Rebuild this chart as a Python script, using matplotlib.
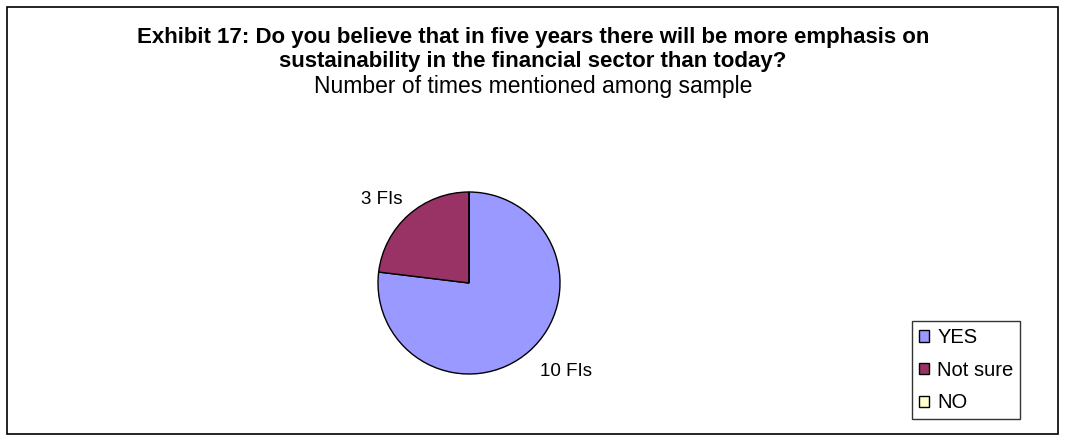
import matplotlib.pyplot as plt
import numpy as np

plt.rcParams['font.family'] = ['Liberation Sans', 'DejaVu Sans']

categories = ['YES', 'Not sure', 'NO']
counts = [10, 3, 0]
colors = ['#9999FF', '#993366', '#FFFFCC']

W, H = 1066, 442
fig = plt.figure(figsize=(W / 100, H / 100), dpi=100)

# outer frame
fig.patches.append(plt.Rectangle((7 / W, 8 / H), 1051 / W, 427 / H, transform=fig.transFigure,
                                 fill=False, edgecolor='black', linewidth=1.2))

fig.text(0.5, 1 - 38 / H, 'Exhibit 17: Do you believe that in five years there will be more emphasis on',
         ha='center', va='center', fontsize=16, fontweight='bold')
fig.text(0.5, 1 - 62 / H, 'sustainability in the financial sector than today?',
         ha='center', va='center', fontsize=16, fontweight='bold')
fig.text(0.5, 1 - 86 / H, 'Number of times mentioned among sample',
         ha='center', va='center', fontsize=16.5)

# pie axes: centre (469, 283) px, radius 91 px
r = 91
ax = fig.add_axes([(469 - 1.1 * r) / W, (H - 283 - 1.1 * r) / H, 2.2 * r / W, 2.2 * r / H])
wedges, _ = ax.pie(counts, colors=colors, startangle=90, counterclock=False,
                   wedgeprops=dict(edgecolor='black', linewidth=1.0))
ax.set_xlim(-1.1, 1.1)
ax.set_ylim(-1.1, 1.1)
ax.set_aspect('equal')
ax.axis('off')

# labels just outside the wedge, anchored on the side facing the pie
for w, c in zip(wedges, counts):
    if c == 0:
        continue
    mid = np.deg2rad((w.theta1 + w.theta2) / 2)
    d = 1.18 if np.sin(mid) < 0 else 1.1
    x, y = d * np.cos(mid), d * np.sin(mid)
    ax.text(x, y, f'{c} FIs', ha='left' if x > 0 else 'right',
            va='top' if y < 0 else 'bottom', fontsize=13.5, clip_on=False)

handles = [plt.Rectangle((0, 0), 1, 1, facecolor=col, edgecolor='black', linewidth=1.0)
           for col in colors]
leg = fig.legend(handles, categories, loc='upper left',
                 bbox_to_anchor=(912 / W, 1 - 321 / H), fontsize=14.5,
                 frameon=True, fancybox=False, edgecolor='black',
                 handlelength=0.5, handleheight=0.5, handletextpad=0.4,
                 borderpad=0.35, labelspacing=0.68, borderaxespad=0)
leg.get_frame().set_linewidth(1.0)

fig.savefig('out.png', dpi=100)
